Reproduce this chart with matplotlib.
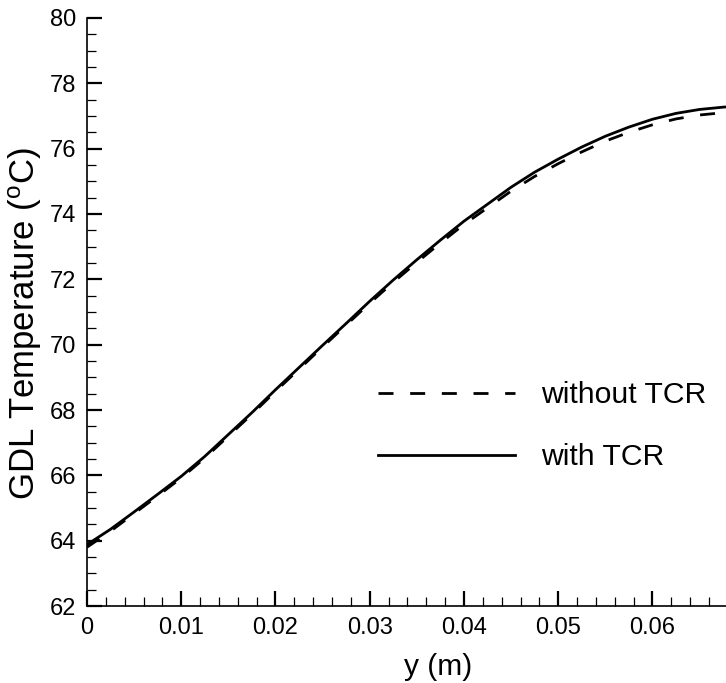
import numpy as np
import matplotlib
matplotlib.use('Agg')
import matplotlib.pyplot as plt
from matplotlib.ticker import MultipleLocator

plt.rcParams['font.family'] = ['Liberation Sans', 'DejaVu Sans']
plt.rcParams['mathtext.fontset'] = 'custom'
plt.rcParams['mathtext.rm'] = 'Liberation Sans'

# position along channel (m)
y_pos = [0, 0.0025, 0.005, 0.0075, 0.01, 0.0125, 0.015, 0.0175, 0.02, 0.0225,
         0.025, 0.0275, 0.03, 0.0325, 0.035, 0.0375, 0.04, 0.0425, 0.045, 0.0475,
         0.05, 0.0525, 0.055, 0.0575, 0.06, 0.0625, 0.065, 0.0675, 0.068]
# GDL temperature (C)
t_with = [63.88, 64.35, 64.88, 65.42, 65.97, 66.58, 67.25, 67.92, 68.62, 69.30,
          69.98, 70.65, 71.33, 71.98, 72.60, 73.20, 73.78, 74.30, 74.82, 75.28,
          75.68, 76.05, 76.38, 76.66, 76.90, 77.08, 77.20, 77.27, 77.28]
t_without = [63.80, 64.29, 64.83, 65.37, 65.92, 66.53, 67.20, 67.87, 68.57, 69.25,
             69.93, 70.60, 71.27, 71.91, 72.52, 73.11, 73.68, 74.19, 74.70, 75.15,
             75.54, 75.90, 76.23, 76.50, 76.73, 76.91, 77.03, 77.10, 77.11]

fig = plt.figure(figsize=(7.26, 6.83), dpi=100)
ax = fig.add_axes([0.1198, 0.1127, 0.8802, 0.861])

ax.plot(y_pos, t_without, color='black', lw=2, dashes=(5.4, 6.0), label='without TCR')
ax.plot(y_pos, t_with, color='black', lw=2, label='with TCR')

ax.set_xlim(0, 0.0678)
ax.set_ylim(62, 80)
ax.xaxis.set_major_locator(MultipleLocator(0.01))
ax.xaxis.set_minor_locator(MultipleLocator(0.002))
ax.yaxis.set_major_locator(MultipleLocator(2))
ax.yaxis.set_minor_locator(MultipleLocator(0.5))
ax.set_xticks([0, 0.01, 0.02, 0.03, 0.04, 0.05, 0.06])
ax.set_xticklabels(['0', '0.01', '0.02', '0.03', '0.04', '0.05', '0.06'])

for s in ['top', 'right']:
    ax.spines[s].set_visible(False)
for s in ['left', 'bottom']:
    ax.spines[s].set_linewidth(1.2)

ax.tick_params(which='major', direction='in', length=11, width=1.6, labelsize=17, pad=8)
ax.tick_params(which='minor', direction='in', length=6.5, width=0.9)

ax.set_xlabel('y (m)', fontsize=21.5)
ax.set_ylabel(r'GDL Temperature ($\mathrm{^{o}}$C)', fontsize=25)
ax.xaxis.set_label_coords(0.549, -0.08)
ax.yaxis.set_label_coords(-0.067, 0.48)

ax.legend(loc='upper left', bbox_to_anchor=(0.413, 0.428), frameon=False, fontsize=21.7,
          handlelength=4.55, handletextpad=0.87, labelspacing=1.12)

fig.savefig('out.png', dpi=100)
